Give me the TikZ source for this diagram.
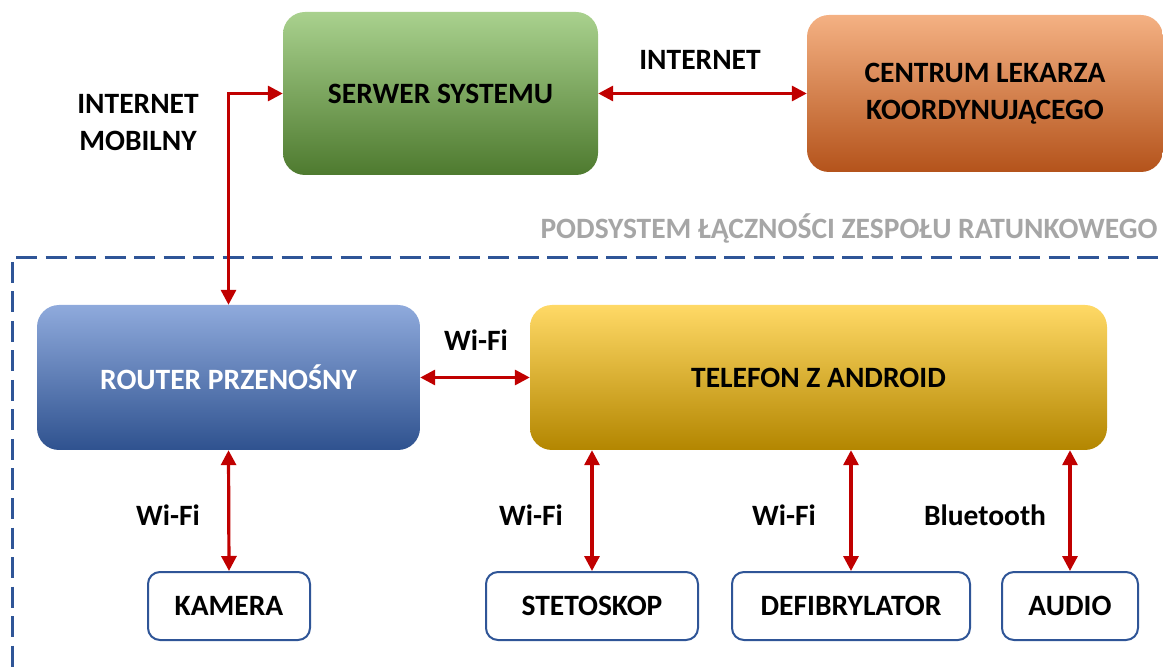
\documentclass[tikz,border=0pt]{standalone}
\usepackage{fontspec}
\setmainfont{Carlito}
\usetikzlibrary{arrows.meta}

\definecolor{linkred}{HTML}{C00000}
\definecolor{frameblue}{HTML}{2F5597}
\definecolor{titlegray}{HTML}{A6A6A6}
\definecolor{greentop}{HTML}{A9D18E}
\definecolor{greenmid}{HTML}{70AD47}
\definecolor{greenbot}{HTML}{4E7A2F}
\definecolor{orangetop}{HTML}{F4B183}
\definecolor{orangemid}{HTML}{ED7D31}
\definecolor{orangebot}{HTML}{B4531B}
\definecolor{bluetop}{HTML}{8FAADC}
\definecolor{bluemid}{HTML}{4472C4}
\definecolor{bluebot}{HTML}{2F528F}
\definecolor{yellowtop}{HTML}{FFD966}
\definecolor{yellowmid}{HTML}{FFC000}
\definecolor{yellowbot}{HTML}{B38600}

\tikzstyle{blok} = [rounded corners=22pt, inner sep=0pt, align=center,
                    font=\bfseries\fontsize{29.5}{37}\selectfont]
\tikzstyle{dev} = [draw=frameblue, line width=2pt, rounded corners=12pt, fill=white,
                   minimum height=68pt, inner sep=0pt,
                   font=\bfseries\fontsize{29.5}{37}\selectfont]
\tikzstyle{link} = [draw=linkred, line width=3.2pt,
                    {Triangle[length=15pt,width=15pt]}-{Triangle[length=15pt,width=15pt]}]
\tikzstyle{opis} = [align=center, font=\bfseries\fontsize{29.5}{37}\selectfont]
\tikzstyle{ramka} = [frameblue, line width=3pt, dash pattern=on 21pt off 8.5pt]

\begin{document}
\begin{tikzpicture}[x=1pt, y=-1pt]
\useasboundingbox (0,0) rectangle (1163,668);

% gorny poziom
\node[blok, minimum width=315pt, minimum height=163pt,
      top color=greentop, middle color=greenmid, bottom color=greenbot]
      (serwer) at (440.5,93.5) {SERWER SYSTEMU};
\node[blok, minimum width=356pt, minimum height=157pt,
      top color=orangetop, middle color=orangemid, bottom color=orangebot]
      (centrum) at (985,93.5) {CENTRUM LEKARZA\\KOORDYNUJĄCEGO};

% podsystem
\draw[ramka] (16,258) -- (1163,258);
\draw[ramka] (12,262) -- (12,668);
\node[opis, text=titlegray, anchor=east] (podsystem) at (1161,228)
    {PODSYSTEM ŁĄCZNOŚCI ZESPOŁU RATUNKOWEGO};

\node[blok, minimum width=383pt, minimum height=145pt, text=white,
      top color=bluetop, middle color=bluemid, bottom color=bluebot]
      (router) at (228.5,377.5) {ROUTER PRZENOŚNY};
\node[blok, minimum width=577pt, minimum height=145pt,
      top color=yellowtop, middle color=yellowmid, bottom color=yellowbot]
      (telefon) at (818.5,377.5) {TELEFON Z ANDROID};

% urzadzenia
\node[dev, minimum width=162pt] (kamera) at (229,606) {KAMERA};
\node[dev, minimum width=212pt] (stetoskop) at (592,606) {STETOSKOP};
\node[dev, minimum width=238pt] (defibrylator) at (851,606) {DEFIBRYLATOR};
\node[dev, minimum width=136pt] (audio) at (1070,606) {AUDIO};

% polaczenia
\draw[link] (router.north) |- (serwer.west);
\draw[link] (serwer.east) -- (centrum.west);
\draw[link] (router.east) -- (telefon.west);
\draw[link] (router.south) -- (kamera.north);
\draw[link] (stetoskop.north |- telefon.south) -- (stetoskop.north);
\draw[link] (defibrylator.north |- telefon.south) -- (defibrylator.north);
\draw[link] (audio.north |- telefon.south) -- (audio.north);

% opisy
\node[opis] (internet) at (700,60) {INTERNET};
\node[opis] (mobilny) at (138,123) {INTERNET\\MOBILNY};
\node[opis] (wifi1) at (476,340) {Wi-Fi};
\node[opis] (wifi2) at (168,515) {Wi-Fi};
\node[opis] (wifi3) at (531,515) {Wi-Fi};
\node[opis] (wifi4) at (784,515) {Wi-Fi};
\node[opis] (bt) at (985,515) {Bluetooth};
\end{tikzpicture}
\end{document}
